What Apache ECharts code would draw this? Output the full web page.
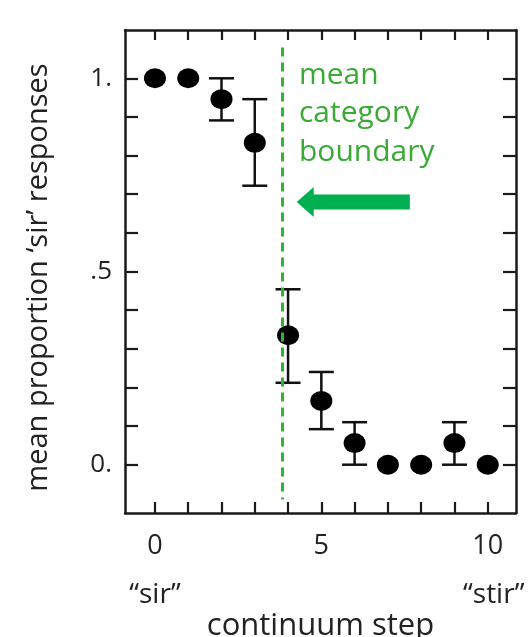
<!DOCTYPE html>
<html>
<head>
<meta charset="utf-8">
<script src="https://cdn.jsdelivr.net/npm/echarts@6/dist/echarts.min.js"></script>
<style>
html,body{margin:0;padding:0;background:#fff;}
#chart{width:532px;height:637px;}
</style>
</head>
<body>
<div id="chart"></div>
<script>
// ---- data ----
const steps = [0, 1, 2, 3, 4, 5, 6, 7, 8, 9, 10];
const meanProp = [1.0, 1.0, 0.946, 0.833, 0.335, 0.165, 0.056, 0.0, 0.0, 0.056, 0.0];
const errLow  = [null, null, 0.891, 0.722, 0.212, 0.092, 0.0, null, null, 0.0, null];
const errHigh = [null, null, 1.0, 0.946, 0.454, 0.240, 0.110, null, null, 0.110, null];
const xTickValues = [0, 1, 2, 3, 4, 5, 6, 7, 8, 9, 10];
const xLabelValues = [0, 5, 10];
const xLabelTexts = ['0', '5', '10'];
const endWords = ['\u201Csir\u201D', '\u201Cstir\u201D'];
const yTickValues = [0, 0.1, 0.2, 0.3, 0.4, 0.5, 0.6, 0.7, 0.8, 0.9, 1.0];
const yLabelValues = [0, 0.5, 1];
const yLabelTexts = ['0.', '.5', '1.'];
const boundaryStep = 3.83;
const boundarySpan = [-0.09, 1.08];
const arrowSpec = [[7.66, 4.26, 0.68]]; // tail x, tip x, y
const annotationText = ['mean', 'category', 'boundary'];

// ---- build ----
const FONT = 'Open Sans';
const AXIS_COLOR = '#1a1a1a';
const GREEN_TEXT = '#3aaa35';
const GREEN_LINE = '#33b233';
const GREEN_ARROW = '#00b050';

const scatterData = steps.map((s, i) => [s, meanProp[i]]);
const errData = [];
steps.forEach((s, i) => { if (errLow[i] !== null) errData.push([s, errLow[i], errHigh[i]]); });

const chart = echarts.init(document.getElementById('chart'), null, {renderer: 'canvas'});

const axisLineStyle = {color: AXIS_COLOR, width: 2.5};
const tickStyle = {color: AXIS_COLOR, width: 2.2};

const option = {
  animation: false,
  backgroundColor: '#fff',
  grid: {left: 125, right: 16, top: 30, bottom: 124, containLabel: false, outerBoundsMode: 'none'},
  xAxis: [
    {
      type: 'value', position: 'bottom', min: -0.9, max: 10.85,
      axisLine: {show: true, onZero: false, lineStyle: axisLineStyle},
      axisTick: {show: true, inside: true, length: 11, lineStyle: tickStyle, customValues: xTickValues},
      axisLabel: {
        show: true, customValues: xLabelValues, margin: 9,
        fontFamily: FONT, fontSize: 27, color: '#222', lineHeight: 48, verticalAlign: 'top',
        formatter: function (v) {
          const idx = xLabelValues.indexOf(v);
          const t = idx >= 0 ? xLabelTexts[idx] : '';
          if (v === xLabelValues[0]) return '{n|' + t + '}\n{s|' + endWords[0] + '}';
          if (v === xLabelValues[xLabelValues.length - 1]) return '{n|' + t + '}\n{e|' + endWords[1] + '}';
          return '{n|' + t + '}';
        },
        rich: {
          n: {fontFamily: FONT, fontSize: 27, color: '#222', lineHeight: 48},
          s: {fontFamily: FONT, fontSize: 28, color: '#222', lineHeight: 50},
          e: {fontFamily: FONT, fontSize: 28, color: '#222', lineHeight: 50, padding: [0, 0, 0, 12]}
        }
      },
      splitLine: {show: false},
      name: 'continuum step', nameLocation: 'middle', nameGap: 98, nameMoveOverlap: false,
      nameTextStyle: {fontFamily: FONT, fontSize: 31, color: '#222'}
    },
    {
      type: 'value', position: 'top', min: -0.9, max: 10.85,
      axisLine: {show: true, onZero: false, lineStyle: axisLineStyle},
      axisTick: {show: true, inside: true, length: 10, lineStyle: tickStyle, customValues: xTickValues},
      axisLabel: {show: false},
      splitLine: {show: false}
    }
  ],
  yAxis: [
    {
      type: 'value', position: 'left', min: -0.125, max: 1.125,
      axisLine: {show: true, onZero: false, lineStyle: axisLineStyle},
      axisTick: {show: true, inside: true, length: 13, lineStyle: tickStyle, customValues: yTickValues},
      axisLabel: {
        show: true, customValues: yLabelValues, margin: 13,
        fontFamily: FONT, fontSize: 26, color: '#222',
        formatter: function (v) {
          const idx = yLabelValues.indexOf(v);
          return idx >= 0 ? yLabelTexts[idx] : '';
        }
      },
      splitLine: {show: false},
      name: 'mean proportion \u2018sir\u2019 responses', nameLocation: 'middle', nameGap: 72, nameRotate: 90, nameMoveOverlap: false,
      nameTextStyle: {fontFamily: FONT, fontSize: 29, color: '#222', padding: [0, 12, 0, 0]}
    },
    {
      type: 'value', position: 'right', min: -0.125, max: 1.125,
      axisLine: {show: true, onZero: false, lineStyle: axisLineStyle},
      axisTick: {show: true, inside: true, length: 13, lineStyle: tickStyle, customValues: yTickValues},
      axisLabel: {show: false},
      splitLine: {show: false}
    }
  ],
  series: [
    {
      type: 'custom', name: 'errorbars', xAxisIndex: 0, yAxisIndex: 0, z: 2,
      data: errData,
      renderItem: function (params, api) {
        const x = api.value(0), lo = api.value(1), hi = api.value(2);
        const pLo = api.coord([x, lo]);
        const pHi = api.coord([x, hi]);
        const hw = 12.5;
        const st = {stroke: '#111', lineWidth: 2.5};
        return {
          type: 'group',
          children: [
            {type: 'line', shape: {x1: pLo[0], y1: pLo[1], x2: pHi[0], y2: pHi[1]}, style: st},
            {type: 'line', shape: {x1: pLo[0] - hw, y1: pLo[1], x2: pLo[0] + hw, y2: pLo[1]}, style: st},
            {type: 'line', shape: {x1: pHi[0] - hw, y1: pHi[1], x2: pHi[0] + hw, y2: pHi[1]}, style: st}
          ]
        };
      }
    },
    {
      type: 'scatter', name: 'mean', xAxisIndex: 0, yAxisIndex: 0, z: 3,
      data: scatterData,
      symbol: 'circle', symbolSize: [22, 20],
      itemStyle: {color: '#000', opacity: 1},
      markLine: {
        silent: true, symbol: 'none', z: 4,
        label: {show: false},
        lineStyle: {color: GREEN_LINE, width: 3, type: [9, 6], opacity: 1},
        data: [[{coord: [boundaryStep, boundarySpan[1]]}, {coord: [boundaryStep, boundarySpan[0]]}]]
      }
    },
    {
      type: 'custom', name: 'arrow', xAxisIndex: 0, yAxisIndex: 0, z: 4,
      data: arrowSpec,
      renderItem: function (params, api) {
        const pTail = api.coord([api.value(0), api.value(2)]);
        const pTip = api.coord([api.value(1), api.value(2)]);
        const headLen = 17, headHalf = 15, shaftHalf = 7.5;
        const y = pTip[1];
        const hx = pTip[0] + headLen;
        return {
          type: 'polygon',
          shape: {points: [
            [pTip[0], y], [hx, y - headHalf], [hx, y - shaftHalf], [pTail[0], y - shaftHalf],
            [pTail[0], y + shaftHalf], [hx, y + shaftHalf], [hx, y + headHalf]
          ]},
          style: {fill: GREEN_ARROW}
        };
      }
    }
  ],
  graphic: [
    {
      type: 'text', left: 299, top: 56, silent: true,
      style: {
        text: annotationText.join('\n'), fill: GREEN_TEXT,
        font: '30px "Open Sans"', lineHeight: 38.5
      }
    }
  ]
};

chart.setOption(option);
</script>
</body>
</html>
